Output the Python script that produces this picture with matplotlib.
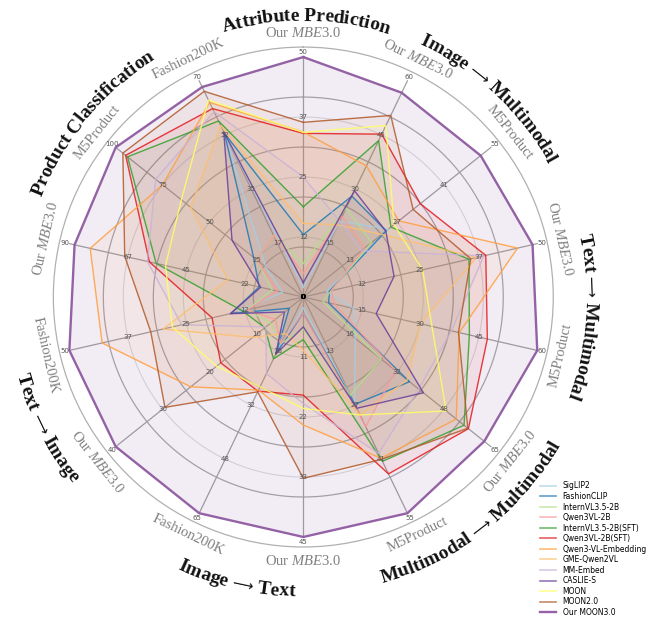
import numpy as np
import matplotlib
matplotlib.use("Agg")
import matplotlib.pyplot as plt
from matplotlib.lines import Line2D
from matplotlib.textpath import TextToPath
from matplotlib.font_manager import FontProperties

plt.rcParams["mathtext.fontset"] = "custom"
plt.rcParams["mathtext.rm"] = "Liberation Serif"
plt.rcParams["mathtext.it"] = "Liberation Serif:italic"

# ---------------- data ----------------
axis_names = ["Our MBE3.0", "Our MBE3.0", "M5Product", "Our MBE3.0", "M5Product",
              "Our MBE3.0", "M5Product", "Our MBE3.0", "Fashion200K", "Our MBE3.0",
              "Fashion200K", "Our MBE3.0", "M5Product", "Fashion200K"]
axis_max = [50, 60, 55, 50, 60, 65, 55, 45, 65, 40, 50, 90, 100, 70]

group_titles = ["Attribute Prediction", "Image \u2192 Multimodal", "Text \u2192 Multimodal",
                "Multimodal \u2192 Multimodal", "Image \u2192 Text", "Text \u2192 Image",
                "Product Classification"]

model_names = ["SigLIP2", "FashionCLIP", "InternVL3.5-2B", "Qwen3VL-2B",
               "InternVL3.5-2B(SFT)", "Qwen3VL-2B(SFT)", "Qwen3-VL-Embedding",
               "GME-Qwen2VL", "MM-Embed", "CASLIE-S", "MOON", "MOON2.0", "Our MOON3.0"]

siglip2 = [2, 21, 25, 5, 13, 18, 27, 2, 15, 4, 14, 8, 20, 53]
fashionclip = [13, 28, 24.3, 5.6, 6.5, 36.8, 27.3, 3, 17, 3, 15.5, 17, 26.5, 53]
internvl = [7, 24.7, 20, 6, 5, 27, 25, 6, 14, 7, 12, 12, 25, 20]
qwen3vl = [5, 22.4, 18, 6, 8, 32, 33, 3, 14, 6, 12, 10, 25, 20]
internvl_sft = [18.8, 43.4, 25.7, 35.4, 42.6, 55.7, 41.8, 8, 18.6, 8.2, 13, 56.6, 93.7, 57]
qwen3vl_sft = [34.1, 45.2, 34.3, 39, 47.2, 57.2, 45, 18.4, 28.3, 17.6, 19.5, 59.2, 94.7, 61]
qwen3vl_emb = [34.4, 36.4, 28, 45.8, 40, 53, 41, 24, 28, 24, 43, 82, 75, 63]
gme = [15.4, 20, 23, 37, 30, 36, 30, 10, 11, 10.8, 30, 29, 60, 55.5]
mm_embed = [25, 21, 17, 38.6, 38, 40, 39.8, 20, 23, 8, 26, 60, 78.7, 60]
caslie = [3, 29.5, 24.2, 19.4, 18.7, 41.6, 28.3, 5.6, 17.2, 4, 15.6, 16.4, 38, 53.5]
moon = [34.3, 47.6, 26.6, 25.5, 33, 49.5, 30, 20.9, 27, 18.5, 28, 53, 65, 63.8]
moon2 = [36.4, 50.4, 32.2, 35.8, 39.8, 57, 41.3, 34, 28.5, 29.5, 32.6, 68.7, 96.2, 66.6]
moon3 = [50, 56.7, 52, 49, 60, 62.7, 55, 45, 65, 40, 50, 88, 100, 68]

series = [siglip2, fashionclip, internvl, qwen3vl, internvl_sft, qwen3vl_sft,
          qwen3vl_emb, gme, mm_embed, caslie, moon, moon2, moon3]
colors = ["#a6cee3", "#1f78b4", "#b2df8a", "#fb9a99", "#33a02c", "#e31a1c",
          "#ff9f40", "#fdbf6f", "#cab2d6", "#6a3d9a", "#ffff66", "#b15928", "#8e5aa0"]

# ---------------- figure ----------------
DPI = 100
fig = plt.figure(figsize=(6.51, 6.21), dpi=DPI)
R_PX = 240.0            # radius of the unit ring in pixels
SPINE = 250.0 / R_PX
ax = fig.add_axes([0.0819, 0.1192, 0.768, 0.805], projection="polar")
ax.set_theta_zero_location("N")
ax.set_theta_direction(-1)
ax.set_ylim(0, SPINE)
ax.set_xticks([])
ax.set_yticks([])
ax.grid(False)
ax.spines["polar"].set_color("#b0b0b0")
ax.spines["polar"].set_linewidth(0.9)

n = len(axis_names)
angles = np.arange(n) * 2 * np.pi / n
full = np.linspace(0, 2 * np.pi, 400)

# rings
for rr in np.array([0.2, 0.4, 0.6, 0.8]) * SPINE:
    ax.plot(full, np.full_like(full, rr), color="#a8a8a8", lw=0.9, zorder=1)
for rr in [0.25, 0.5, 0.75]:
    ax.plot(full, np.full_like(full, rr), color="#dcdcdc", lw=0.8, zorder=1)
# spokes
for a in angles:
    ax.plot([a, a], [0, 1.0], color="#a0a0a0", lw=0.9, zorder=1)

# series polygons
amax = np.array(axis_max, dtype=float)
for name, vals, col in zip(model_names, series, colors):
    f = np.array(vals, dtype=float) / amax
    th = np.append(angles, angles[0])
    rr = np.append(f, f[0])
    last = name == "Our MOON3.0"
    ax.fill(th, rr, color=col, alpha=0.11 if last else 0.07, lw=0, zorder=2)
    ax.plot(th, rr, color=col, lw=1.7 if last else 1.0, alpha=0.95 if last else 0.85,
            zorder=3)

# per-axis tick labels
for a, m in zip(angles, axis_max):
    for k, frac in enumerate([0.25, 0.5, 0.75]):
        ax.text(a, frac, str(int(m * frac)), fontsize=5, color="#555555",
                ha="center", va="center", zorder=5)
    ax.text(a, 1.02, str(m), fontsize=5, color="#555555", ha="center",
            va="center", zorder=5)
    ax.text(a, 0, "0", fontsize=5, color="black", fontweight="bold",
            ha="center", va="center", zorder=6)

# spoke names, tangential
for a, name in zip(angles, axis_names):
    deg = np.degrees(a)
    rot = 180 - deg if 90 < deg < 270 else -deg
    if name.startswith("Our "):
        label = "Our $\\mathit{MBE3.0}$"
    else:
        label = name
    ax.text(a, 264 / R_PX, label, fontsize=10.5, color="#808080",
            family="Liberation Serif", rotation=rot, rotation_mode="anchor",
            ha="center", va="center")

# curved group titles
ttp = TextToPath()
tfp = FontProperties(family="Liberation Serif", weight="bold", size=14)
afp = FontProperties(family="DejaVu Sans", weight="normal", size=10.5)
ARROW = "\u27f6"


def glyph(c):
    return afp if c == "\u2192" else tfp


def width_px(s, fp):
    w, h, d = ttp.get_text_width_height_descent(s, fp, ismath=False)
    return w * DPI / 72.0


space_w = width_px("a a", tfp) - width_px("aa", tfp)


def char_w(c):
    if c == " ":
        return space_w
    if c == "\u2192":
        return width_px(ARROW, afp)
    return width_px(c, tfp)


title_pos = [(0.5, 281), (43, 283), (94, 287), (142.3, 292), (193.3, 295),
             (243, 293), (309.5, 285)]
for text, (cdeg, rpx) in zip(group_titles, title_pos):
    widths = [char_w(c) for c in text]
    total = sum(widths)
    span = np.degrees(total / rpx)
    flip = 100 < cdeg < 260
    cum = 0.0
    for c, w in zip(text, widths):
        off = np.degrees((cum + w / 2) / rpx)
        cum += w
        if flip:
            d = cdeg + span / 2 - off
            rot = 180 - d
        else:
            d = cdeg - span / 2 + off
            rot = -d
        if c == " ":
            continue
        s = ARROW if c == "\u2192" else c
        ax.text(np.radians(d), rpx / R_PX, s, fontproperties=glyph(c), color="#111111",
                rotation=rot, rotation_mode="anchor", ha="center", va="center")

# legend
handles = [Line2D([0], [0], color=c, lw=1.7 if nm == "Our MOON3.0" else 1.2,
                  alpha=0.95 if nm == "Our MOON3.0" else 0.7)
           for nm, c in zip(model_names, colors)]
fig.legend(handles, model_names, loc="lower right", bbox_to_anchor=(1.0, 0.0),
           frameon=False, fontsize=5.5, handlelength=2.2, labelspacing=0.2,
           handletextpad=0.8, borderaxespad=0.15)

fig.savefig("out.png", dpi=DPI)
